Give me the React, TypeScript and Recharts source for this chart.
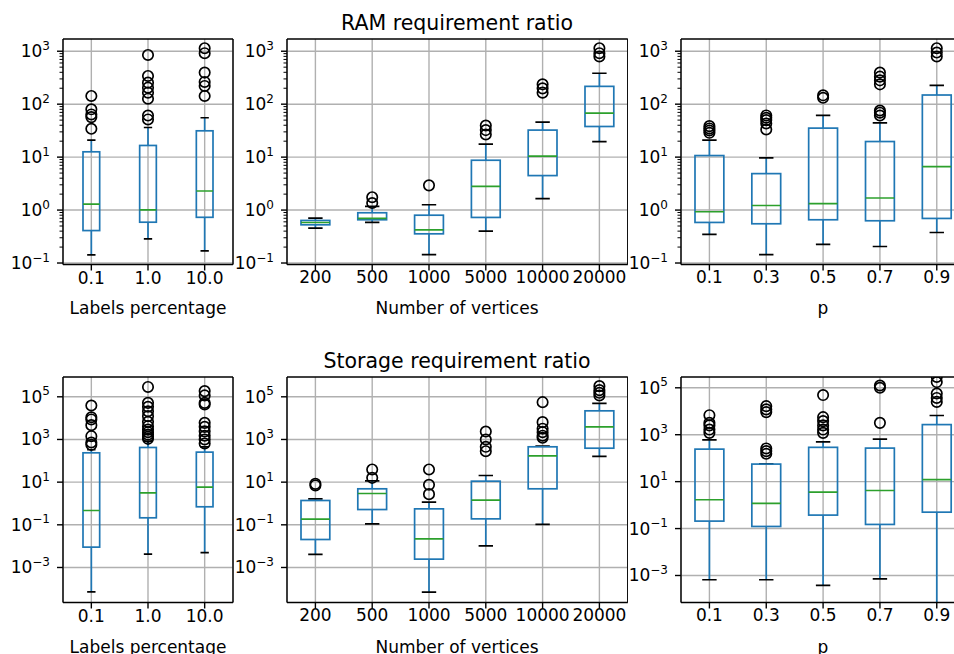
import { Bar, CartesianGrid, ComposedChart, Scatter, XAxis, YAxis } from "recharts";

const FONT = '"DejaVu Sans", sans-serif';
const BLUE = "#1f77b4";
const GREEN = "#2ca02c";
const GRID = "#b0b0b0";
const LW = 1.7;

// categories
const labelPercentages = ["0.1", "1.0", "10.0"];
const vertexCounts = ["200", "500", "1000", "5000", "10000", "20000"];
const pValues = ["0.1", "0.3", "0.5", "0.7", "0.9"];

// [lower whisker, q1, median, q3, upper whisker] per category
const ramByLabels = [
  [0.143, 0.41, 1.3, 12.6, 20.9],
  [0.286, 0.59, 1.01, 16.6, 36.3],
  [0.17, 0.73, 2.29, 31.4, 55.4],
];
const ramByLabelsOut = [
  [143, 80, 64, 57, 34.3],
  [850, 341, 255, 205, 165, 127, 61, 51.5],
  [1140, 918, 395, 263, 221, 143],
];

const ramByVertices = [
  [0.456, 0.527, 0.583, 0.637, 0.705],
  [0.584, 0.656, 0.695, 0.89, 1.17],
  [0.144, 0.356, 0.424, 0.8, 1.26],
  [0.4, 0.726, 2.81, 8.73, 17.6],
  [1.64, 4.48, 10.4, 32.4, 45.8],
  [19.7, 37.9, 67.9, 217, 384],
];
const ramByVerticesOut = [[], [1.75, 1.36], [2.93], [39.6, 32.4, 26.8], [237, 199, 165], [1140, 918, 795]];

const ramByP = [
  [0.346, 0.584, 0.93, 10.7, 20.9],
  [0.144, 0.551, 1.22, 4.88, 9.67],
  [0.224, 0.656, 1.32, 35.3, 61.3],
  [0.205, 0.628, 1.69, 19.7, 44.5],
  [0.377, 0.695, 6.62, 149, 227],
];
const ramByPOut = [
  [38.5, 34.8, 31.8, 28.8],
  [61.3, 55.4, 50, 43.3, 33.3],
  [147, 132],
  [395, 331, 282, 237, 76, 69, 61],
  [1140, 945, 795],
];

const storByLabels = [
  [7.2e-5, 0.009, 0.47, 237, 330],
  [0.0042, 0.213, 3.16, 422, 830],
  [0.005, 0.7, 5.8, 255, 453],
];
const storByLabelsOut = [
  [3.9e4, 1.1e4, 8.7e3, 4.7e3, 1.43e3, 720, 560],
  [2.9e5, 5.2e4, 3.4e4, 2.1e4, 1.24e4, 6.7e3, 4.2e3, 2.9e3, 2.2e3, 1.7e3, 1.33e3, 1.07e3],
  [1.85e5, 1.16e5, 5.2e4, 4.4e4, 6.0e3, 3.9e3, 2.4e3, 1.5e3, 1.0e3, 650],
];

const storByVertices = [
  [0.0041, 0.0205, 0.184, 1.38, 1.66],
  [0.111, 0.52, 2.94, 4.87, 11.5],
  [7e-5, 0.00246, 0.022, 0.56, 1.15],
  [0.0104, 0.19, 1.43, 11.1, 20.5],
  [0.104, 4.87, 171, 453, 490],
  [160, 390, 3.9e3, 2.2e4, 4.9e4],
];
const storByVerticesOut = [
  [8.3, 7.0],
  [39.3, 15.9],
  [39.3, 7.5, 2.74],
  [2.37e3, 1.0e3, 453, 282],
  [5.6e4, 6.5e3, 3.2e3, 2.2e3, 1.5e3, 1.2e3],
  [3.16e5, 2.05e5, 1.54e5, 1.16e5],
];

const storByP = [
  [6.6e-4, 0.208, 1.69, 243, 600],
  [6.6e-4, 0.123, 1.18, 56, 57.6],
  [3.8e-4, 0.375, 3.58, 290, 500],
  [7.2e-4, 0.15, 4.2, 269, 650],
  [3e-5, 0.5, 12.3, 2.7e3, 6.6e3],
];
const storByPOut = [
  [6.8e3, 3.2e3, 2.5e3, 1.66e3, 1.2e3],
  [1.65e4, 1.2e4, 9.2e3, 260, 200, 154],
  [4.9e4, 5.6e3, 3.8e3, 2.5e3, 1.66e3, 1.2e3],
  [1.25e5, 1.0e5, 3.2e3],
  [2.9e5, 1.75e5, 5.7e4, 3.7e4, 2.5e4],
];

// axis ticks
const ramMajors = [0.1, 1, 10, 100, 1000];
const ramMinors = [0.1, 1, 10, 100].flatMap((d) => [2, 3, 4, 5, 6, 7, 8, 9].map((m) => +(m * d).toPrecision(3)));
const storMajors = [1e-3, 1e-1, 10, 1e3, 1e5];

const Y_W = 62;
const X_H = 30;
const PLOT_H = 225.5;

function makeYTick(majors: number[]) {
  return (p: any) => {
    const v = p.payload.value;
    const major = majors.includes(v);
    const ax = p.x + 13;
    const len = major ? 6 : 3.5;
    const exp = Math.round(Math.log10(v));
    return (
      <g>
        <line x1={ax - len} x2={ax} y1={p.y} y2={p.y} stroke="#000" strokeWidth={major ? 1.4 : 1} />
        {major && (
          <text x={p.x} y={p.y + 6} textAnchor="end" fontSize={17} fontFamily={FONT} fill="#000">
            10
            <tspan dy={-7.5} fontSize={12}>
              {exp < 0 ? "\u2212" + -exp : String(exp)}
            </tspan>
          </text>
        )}
      </g>
    );
  };
}

const XTick = (p: any) => (
  <text x={p.x} y={p.y + 13} textAnchor="middle" fontSize={17} fontFamily={FONT} fill="#000">
    {p.payload.value}
  </text>
);

function whisker(capAtTop: boolean, capW: number) {
  return (p: any) => {
    const cx = p.x + p.width / 2;
    const a = Math.min(p.y, p.y + p.height);
    const b = Math.max(p.y, p.y + p.height);
    const cy = capAtTop ? a : b;
    return (
      <g>
        <line x1={cx} x2={cx} y1={a} y2={b} stroke={BLUE} strokeWidth={LW} />
        <line x1={cx - capW / 2} x2={cx + capW / 2} y1={cy} y2={cy} stroke="#000" strokeWidth={LW} />
      </g>
    );
  };
}

const boxShape = (p: any) => (
  <rect
    x={p.x}
    y={Math.min(p.y, p.y + p.height)}
    width={p.width}
    height={Math.abs(p.height)}
    fill="none"
    stroke={BLUE}
    strokeWidth={LW}
  />
);

const medianShape = (p: any) => (
  <line x1={p.x} x2={p.x + p.width} y1={p.y} y2={p.y} stroke={GREEN} strokeWidth={LW} />
);

function outlierShape(k: number) {
  return (p: any) => {
    if (p.payload?.out?.[k] == null || !Number.isFinite(p.cy) || !Number.isFinite(p.cx)) return <g />;
    return <circle cx={p.cx} cy={p.cy} r={5.2} fill="none" stroke="#000" strokeWidth={LW} />;
  };
}

type PanelProps = {
  categories: string[];
  stats: number[][];
  outliers: number[][];
  left: number;
  top: number;
  plotWidth: number;
  domain: [number, number];
  majors: number[];
  minors?: number[];
  boxFrac: number;
};

function BoxPanel({ categories, stats, outliers, left, top, plotWidth, domain, majors, minors = [], boxFrac }: PanelProps) {
  const rows = categories.map((name, i) => {
    const [lo, q1, med, q3, hi] = stats[i];
    return { name, wl: [lo, q1], box: [q1, q3], wh: [q3, hi], med: [med, med], out: outliers[i] };
  });
  const band = plotWidth / categories.length;
  const bw = band - 2 * Math.round((band - band * boxFrac) / 2);
  const nOut = Math.max(...outliers.map((o) => o.length));
  const ticks = [...majors, ...minors];

  // the top x-axis and right y-axis are 1px wide and only draw the frame lines
  return (
    <div style={{ position: "absolute", left: left - Y_W, top: top - 1 }}>
      <ComposedChart
        width={Y_W + plotWidth + 1}
        height={PLOT_H + X_H + 1}
        data={rows}
        margin={{ top: 0, right: 0, bottom: 0, left: 0 }}
        barSize={bw}
        barGap={-bw}
      >
        <CartesianGrid stroke={GRID} strokeWidth={1.4} horizontalValues={majors} />
        <Bar dataKey="wl" shape={whisker(false, bw / 2)} isAnimationActive={false} />
        <Bar dataKey="wh" shape={whisker(true, bw / 2)} isAnimationActive={false} />
        <Bar dataKey="box" shape={boxShape} isAnimationActive={false} />
        <Bar dataKey="med" shape={medianShape} isAnimationActive={false} />
        {Array.from({ length: nOut }, (_, k) => (
          <Scatter key={k} dataKey={(r: any) => r.out[k]} shape={outlierShape(k)} isAnimationActive={false} />
        ))}
        <XAxis
          dataKey="name"
          type="category"
          height={X_H}
          interval={0}
          tick={XTick}
          tickSize={6}
          tickMargin={0}
          tickLine={{ stroke: "#000", strokeWidth: 1.4 }}
          axisLine={{ stroke: "#000", strokeWidth: 1.4 }}
        />
        <XAxis xAxisId="top" orientation="top" dataKey="name" height={1} tick={false} tickLine={false} axisLine={{ stroke: "#000", strokeWidth: 1.4 }} />
        <YAxis
          type="number"
          scale="log"
          domain={domain}
          allowDataOverflow
          ticks={ticks}
          interval={0}
          width={Y_W}
          tick={makeYTick(majors)}
          tickSize={6}
          tickMargin={7}
          tickLine={false}
          axisLine={{ stroke: "#000", strokeWidth: 1.4 }}
        />
        <YAxis
          yAxisId="right"
          orientation="right"
          type="number"
          scale="log"
          domain={domain}
          allowDataOverflow
          width={1}
          tick={false}
          tickLine={false}
          axisLine={{ stroke: "#000", strokeWidth: 1.4 }}
        />
      </ComposedChart>
    </div>
  );
}

const TOP_Y = 39.2;
const BOT_Y = 377.4;
const RAM_DOMAIN: [number, number] = [10 ** -1.028, 10 ** 3.231];
const STOR_DOMAIN: [number, number] = [10 ** -4.641, 10 ** 5.928];
const STOR_P_DOMAIN: [number, number] = [10 ** -4.151, 10 ** 5.46];

const textStyle = { fontFamily: FONT, fill: "#000" };

export default function App() {
  return (
    <div style={{ position: "fixed", left: 0, top: 0, width: 954, height: 654, overflow: "hidden", background: "#fff" }}>
      <BoxPanel categories={labelPercentages} stats={ramByLabels} outliers={ramByLabelsOut} left={63} top={TOP_Y} plotWidth={170} domain={RAM_DOMAIN} majors={ramMajors} minors={ramMinors} boxFrac={0.3} />
      <BoxPanel categories={vertexCounts} stats={ramByVertices} outliers={ramByVerticesOut} left={286.7} top={TOP_Y} plotWidth={340.8} domain={RAM_DOMAIN} majors={ramMajors} minors={ramMinors} boxFrac={0.5} />
      <BoxPanel categories={pValues} stats={ramByP} outliers={ramByPOut} left={681} top={TOP_Y} plotWidth={284.2} domain={RAM_DOMAIN} majors={ramMajors} minors={ramMinors} boxFrac={0.5} />
      <BoxPanel categories={labelPercentages} stats={storByLabels} outliers={storByLabelsOut} left={63} top={BOT_Y} plotWidth={170} domain={STOR_DOMAIN} majors={storMajors} boxFrac={0.3} />
      <BoxPanel categories={vertexCounts} stats={storByVertices} outliers={storByVerticesOut} left={286.7} top={BOT_Y} plotWidth={340.8} domain={STOR_DOMAIN} majors={storMajors} boxFrac={0.5} />
      <BoxPanel categories={pValues} stats={storByP} outliers={storByPOut} left={681} top={BOT_Y} plotWidth={284.2} domain={STOR_P_DOMAIN} majors={storMajors} boxFrac={0.5} />
      <svg width={954} height={654} style={{ position: "absolute", left: 0, top: 0, pointerEvents: "none" }}>
        <text x={457} y={30} textAnchor="middle" fontSize={20.5} style={textStyle}>RAM requirement ratio</text>
        <text x={457} y={368} textAnchor="middle" fontSize={20.5} style={textStyle}>Storage requirement ratio</text>
        <text x={148} y={313.5} textAnchor="middle" fontSize={17} style={textStyle}>Labels percentage</text>
        <text x={457} y={313.5} textAnchor="middle" fontSize={17} style={textStyle}>Number of vertices</text>
        <text x={823} y={313.5} textAnchor="middle" fontSize={17} style={textStyle}>p</text>
        <text x={148} y={652.5} textAnchor="middle" fontSize={17} style={textStyle}>Labels percentage</text>
        <text x={457} y={652.5} textAnchor="middle" fontSize={17} style={textStyle}>Number of vertices</text>
        <text x={823} y={652.5} textAnchor="middle" fontSize={17} style={textStyle}>p</text>
      </svg>
    </div>
  );
}
